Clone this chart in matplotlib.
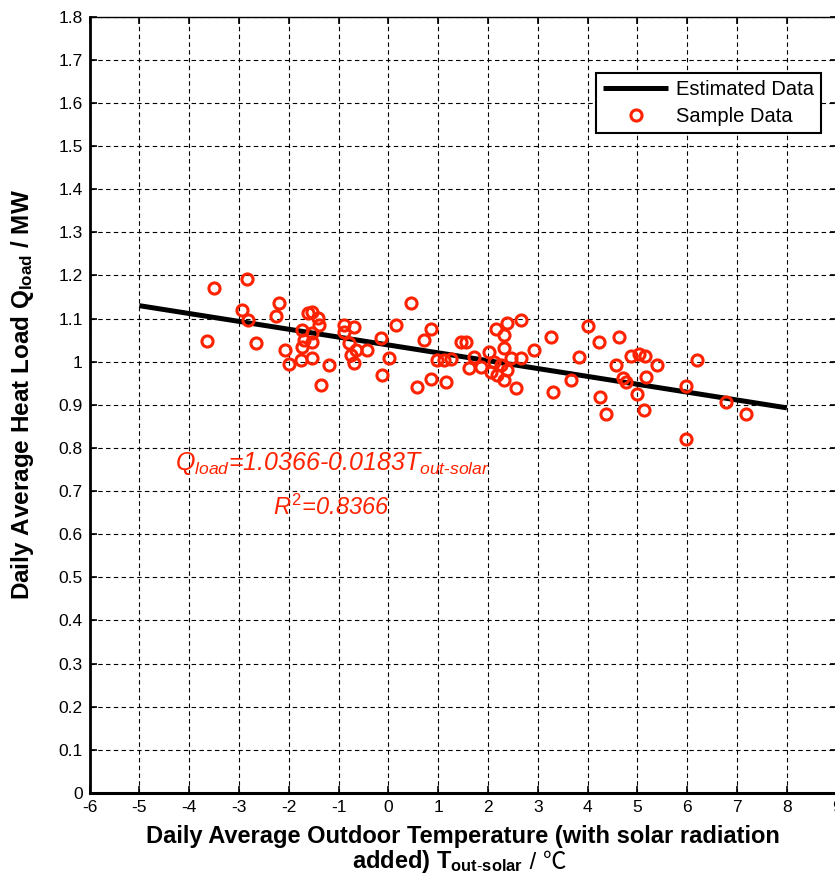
import matplotlib.pyplot as plt

temp_sample = [-3.65, -3.50, -2.93, -2.83, -2.82, -2.65, -2.26, -2.19, -2.07, -2.00,
               -1.76, -1.73, -1.73, -1.69, -1.62, -1.53, -1.53, -1.53, -1.53, -1.41,
               -1.39, -1.36, -1.19, -0.89, -0.89, -0.79, -0.75, -0.69, -0.69, -0.65,
               -0.42, -0.15, -0.12, 0.01, 0.16, 0.45, 0.58, 0.72, 0.85, 0.85,
               0.98, 1.12, 1.15, 1.25, 1.45, 1.55, 1.62, 1.72, 1.86, 2.02,
               2.06, 2.12, 2.16, 2.19, 2.26, 2.32, 2.32, 2.32, 2.39, 2.39,
               2.46, 2.56, 2.66, 2.66, 2.93, 3.26, 3.30, 3.66, 3.83, 4.00,
               4.23, 4.25, 4.37, 4.57, 4.62, 4.70, 4.78, 4.87, 5.00, 5.03,
               5.13, 5.15, 5.17, 5.40, 5.97, 5.97, 6.20, 6.78, 7.18]
load_sample = [1.048, 1.170, 1.120, 1.192, 1.097, 1.044, 1.106, 1.137, 1.027, 0.995,
               1.004, 1.074, 1.035, 1.050, 1.113, 1.115, 1.066, 1.046, 1.008, 1.101,
               1.085, 0.946, 0.992, 1.085, 1.070, 1.043, 1.016, 1.081, 0.996, 1.027,
               1.027, 1.056, 0.969, 1.008, 1.085, 1.136, 0.942, 1.050, 1.077, 0.961,
               1.004, 1.004, 0.954, 1.006, 1.046, 1.046, 0.985, 1.012, 0.988, 1.023,
               0.977, 1.000, 1.077, 0.969, 0.992, 1.062, 1.031, 0.958, 1.089, 0.981,
               1.008, 0.938, 1.097, 1.008, 1.027, 1.058, 0.930, 0.958, 1.010, 1.082,
               1.046, 0.919, 0.879, 0.992, 1.057, 0.963, 0.954, 1.013, 0.925, 1.018,
               0.888, 1.013, 0.965, 0.992, 0.944, 0.820, 1.004, 0.906, 0.878]

# Regressionsgerade (Endpunkte)
temp_est = [-5, 8]
load_est = [1.130, 0.893]

x_ticks = list(range(-6, 10))
y_ticks = [0, 0.1, 0.2, 0.3, 0.4, 0.5, 0.6, 0.7, 0.8, 0.9,
           1.0, 1.1, 1.2, 1.3, 1.4, 1.5, 1.6, 1.7, 1.8]

red = "#ff2200"

plt.rcParams["font.family"] = ["Liberation Sans", "DejaVu Sans"]
plt.rcParams["mathtext.fontset"] = "custom"
plt.rcParams["mathtext.rm"] = "Liberation Sans"
plt.rcParams["mathtext.it"] = "Liberation Sans:italic"
plt.rcParams["mathtext.bf"] = "Liberation Sans:bold"

fig = plt.figure(figsize=(8.35, 8.82), dpi=100)
ax = fig.add_axes([89.5 / 835, 1 - 793 / 882, (836.7 - 89.5) / 835, (793 - 16.7) / 882])

ax.plot(temp_est, load_est, color="black", linewidth=3.6, label="Estimated Data",
        solid_capstyle="butt")
ax.plot(temp_sample, load_sample, "o", markerfacecolor="none", markeredgecolor=red,
        markersize=8, markeredgewidth=2.2, label="Sample Data")

ax.set_xlim(-6, 9)
ax.set_ylim(0, 1.8)
ax.set_xticks(x_ticks)
ax.set_yticks(y_ticks)
ax.set_xticklabels([f"{v:g}" for v in x_ticks])
ax.set_yticklabels([f"{v:g}" for v in y_ticks])
for lab in ax.get_xticklabels() + ax.get_yticklabels():
    lab.set_family(["Liberation Sans Narrow", "Liberation Sans"])
    lab.set_fontsize(12.5)

ax.tick_params(direction="in", length=5, width=1.2, top=True, right=True, pad=5)
ax.grid(True, color="black", linestyle=(0, (4, 3)), linewidth=0.8)
ax.spines["left"].set_linewidth(2.0)
ax.spines["bottom"].set_linewidth(2.2)
ax.spines["top"].set_linewidth(1.0)
ax.spines["right"].set_linewidth(1.0)

# x-Beschriftung: Zeile 1 als xlabel, Zeile 2 zusammengesetzt (℃ ohne mathtext)
ax.set_xlabel("Daily Average Outdoor Temperature (with solar radiation",
              fontsize=17, fontweight="bold", labelpad=7)
line2 = fig.text(352 / 835, 1 - 868 / 882, r"added) $\mathbf{T_{out\text{-}solar}}$",
                 fontsize=17, fontweight="bold", ha="left", va="baseline")
ax.annotate(" / ℃", xy=(1, 0), xycoords=line2, xytext=(0, 4),
            textcoords="offset points", fontsize=17, ha="left", va="baseline",
            family=["Liberation Sans", "Noto Sans CJK SC"], annotation_clip=False)

ax.set_ylabel(r"Daily Average Heat Load $\mathbf{Q_{load}}$ / MW",
              fontsize=17.5, fontweight="bold")
ax.yaxis.set_label_coords(-0.072, 0.513)

ax.text(-4.29, 0.749, r"$Q_{load}$=1.0366-0.0183$T_{out\text{-}solar}$",
        color=red, fontsize=18, style="italic", va="baseline")
ax.text(-1.15, 0.645, r"$R^2$=0.8366", color=red, fontsize=17, style="italic",
        va="baseline", ha="center")

leg = ax.legend(loc="upper right", bbox_to_anchor=(0.979, 0.9275), borderaxespad=0,
                fancybox=False, framealpha=1, edgecolor="black", fontsize=14.5,
                handlelength=3.2, handletextpad=0.4, borderpad=0.35, labelspacing=0.4)
leg.get_frame().set_linewidth(1.5)

fig.savefig("out.png", dpi=100)
